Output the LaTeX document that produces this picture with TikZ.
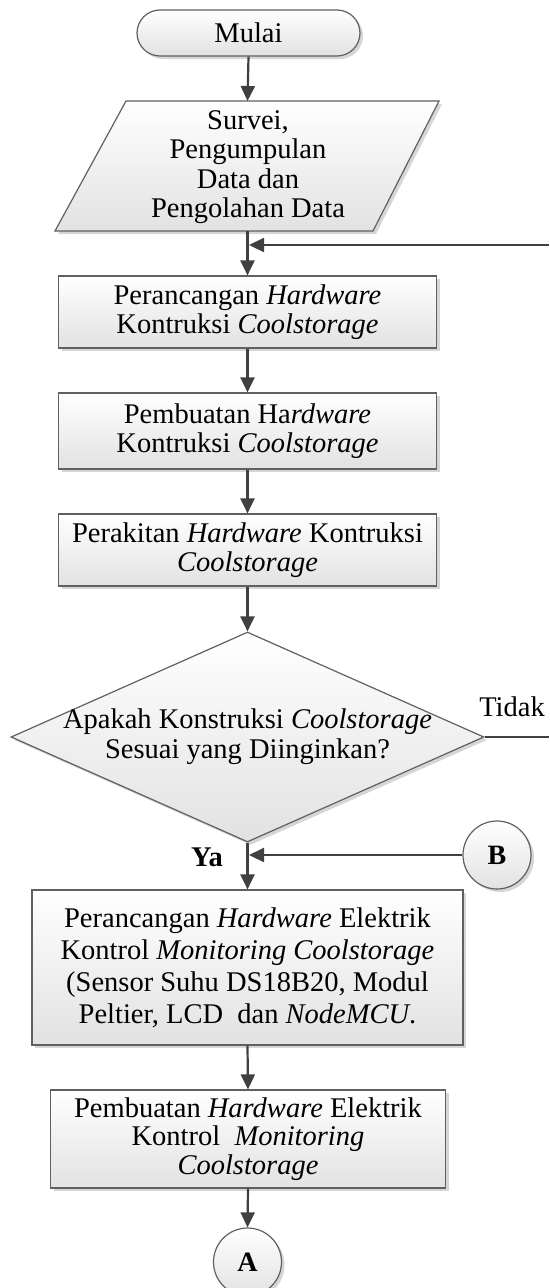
\documentclass[tikz,border=0pt]{standalone}
\usepackage{fontspec}
\setmainfont{Liberation Serif}
\usetikzlibrary{shapes.geometric,shapes.misc,shadows,arrows.meta}
\definecolor{edgec}{HTML}{606060}
\definecolor{arrc}{HTML}{404040}
\definecolor{fillbot}{HTML}{E2E2E2}
\definecolor{shadc}{HTML}{D6D6D6}
\tikzset{
  base/.style={draw=edgec, line width=1.2pt, top color=white, bottom color=fillbot,
    drop shadow={shadow xshift=3pt, shadow yshift=-3pt, fill=shadc, opacity=1}},
  txt/.style={inner sep=0pt, align=center, text=black},
  procbox/.style={base, rectangle, inner sep=0pt, align=center},
  conn/.style={draw=arrc, line width=2.2pt, -{Triangle[length=15pt,width=14pt]}},
  plainline/.style={draw=arrc, line width=2.2pt},
  ff/.style={font=\fontsize{28.5}{#1}\selectfont},
  ff/.default={29}
}
\begin{document}
\begin{tikzpicture}[x=1pt,y=-1pt]
\useasboundingbox (0,0) rectangle (549,1288);

% start
\node[base, rounded rectangle, minimum width=223pt, minimum height=46pt, inner sep=0pt, ff] (start) at (248.5,33) {Mulai};

% parallelogram
\path[base] (126,101) -- (439,101) -- (373,231) -- (55,231) -- cycle;
\coordinate (pT) at (247.5,101);
\coordinate (pB) at (247.5,231);
\node[txt, ff=29.5] (p) at (248,167) {Survei,\\Pengumpulan\\Data dan\\Pengolahan Data};

% boxes
\node[procbox, minimum width=378pt, minimum height=72pt, ff=28.5] (b1) at (247.5,312)
  {Perancangan \textit{Hardware}\\Kontruksi \textit{Coolstorage}};
\node[procbox, minimum width=378pt, minimum height=76pt, ff=28.5] (b2) at (247.5,431)
  {Pembuatan Ha\textit{rdware}\\Kontruksi \textit{Coolstorage}};
\node[procbox, minimum width=378pt, minimum height=72pt, ff=28.5] (b3) at (247.5,550)
  {Perakitan \textit{Hardware} Kontruksi\\\textit{Coolstorage}};

% decision
\node[base, diamond, minimum width=473pt, minimum height=210pt, inner sep=0pt] (d) at (247.5,737) {};
\node[txt, ff=30] (dt) at (247.5,737) {Apakah Konstruksi \textit{Coolstorage}\\Sesuai yang Diinginkan?};
\node[txt, ff, anchor=center] (tidak) at (512,707) {Tidak};
\node[txt, ff, anchor=center, font=\bfseries\fontsize{28.5}{29}\selectfont] (ya) at (207,857) {Ya};
\coordinate (tR) at (549,737);
\coordinate (fR) at (549,245);
\coordinate (fL) at (249,245);
\coordinate (bL) at (249,855);

% connector B
\node[base, circle, minimum size=68pt, inner sep=0pt, font=\bfseries\fontsize{28}{28}\selectfont] (B) at (497,855) {B};

% lower boxes
\node[procbox, minimum width=431pt, minimum height=155pt, ff=32] (b4) at (247.5,967.5)
  {Perancangan \textit{Hardware} Elektrik\\Kontrol \textit{Monitoring Coolstorage}\\(Sensor Suhu DS18B20, Modul\\Peltier, LCD\ \ dan \textit{NodeMCU}.};
\node[procbox, minimum width=395pt, minimum height=98pt, ff=28.5] (b5) at (248,1139)
  {Pembuatan \textit{Hardware} Elektrik\\Kontrol\ \ \textit{Monitoring}\\\textit{Coolstorage}};

\node[base, circle, minimum size=68pt, inner sep=0pt, font=\bfseries\fontsize{28}{28}\selectfont] (A) at (247.5,1262) {A};

% connectors
\draw[conn] (start.south) -- (pT);
\draw[conn] (pB) -- (b1.north);
\draw[conn] (fR) -- (fL);
\draw[conn] (b1.south) -- (b2.north);
\draw[conn] (b2.south) -- (b3.north);
\draw[conn] (b3.south) -- (d.north);
\draw[plainline] (d.east) -- (tR);
\draw[conn] (d.south) -- (b4.north);
\draw[conn] (B.west) -- (bL);
\draw[conn] (b4.south) -- (b5.north);
\draw[conn] (b5.south) -- (A.north);
\end{tikzpicture}
\end{document}
